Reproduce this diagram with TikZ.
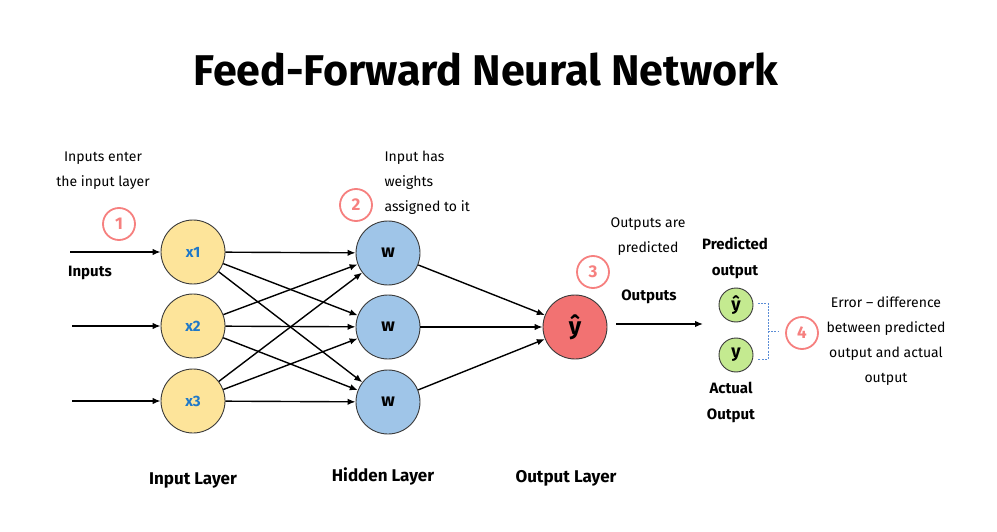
\documentclass[tikz,border=0pt]{standalone}
\usepackage{fontspec}
\setmainfont{Fira Sans}
\usetikzlibrary{arrows.meta}
\definecolor{inyel}{HTML}{FDE49A}
\definecolor{hidblue}{HTML}{9FC5E8}
\definecolor{outred}{HTML}{F27272}
\definecolor{grn}{HTML}{C4EA90}
\definecolor{pinkc}{HTML}{F6807F}
\definecolor{xblue}{HTML}{1F78C8}
\definecolor{brkblue}{HTML}{5B8DD6}
\definecolor{edge}{HTML}{3A3A3A}
\begin{document}
\begin{tikzpicture}[x=1pt,y=-1pt,
  neuron/.style={circle,draw=edge,line width=0.9pt,minimum size=64pt,inner sep=0pt},
  small/.style={circle,draw=edge,line width=0.9pt,minimum size=34pt,inner sep=0pt,fill=grn,font=\fontsize{18}{20}\selectfont\bfseries},
  arr/.style={line width=1.4pt,-{Latex[length=8pt,width=6.5pt]}},
  numc/.style={circle,draw=pinkc,line width=1.8pt,minimum size=32pt,inner sep=0pt,text=pinkc,font=\fontsize{17}{20}\selectfont\bfseries},
  note/.style={align=center,font=\fontsize{14}{25}\selectfont},
  lab/.style={align=center,font=\fontsize{15}{26}\selectfont\bfseries},
  layer/.style={font=\fontsize{17}{20}\selectfont\bfseries}
]
\useasboundingbox[fill=white] (0,0) rectangle (997,532);

% title
\node[font=\fontsize{43}{48}\selectfont\bfseries] (title) at (486,70) {Feed-Forward Neural Network};

% input layer
\node[neuron,fill=inyel,text=xblue,font=\fontsize{15}{17}\selectfont\bfseries] (x1) at (193,252) {x1};
\node[neuron,fill=inyel,text=xblue,font=\fontsize{15}{17}\selectfont\bfseries] (x2) at (193,326) {x2};
\node[neuron,fill=inyel,text=xblue,font=\fontsize{15}{17}\selectfont\bfseries] (x3) at (193,401) {x3};

% hidden layer
\node[neuron,fill=hidblue,font=\fontsize{18}{20}\selectfont\bfseries] (w1) at (388,253) {w};
\node[neuron,fill=hidblue,font=\fontsize{18}{20}\selectfont\bfseries] (w2) at (388,327) {w};
\node[neuron,fill=hidblue,font=\fontsize{18}{20}\selectfont\bfseries] (w3) at (388,402) {w};

% output
\node[neuron,fill=outred,font=\fontsize{24}{26}\selectfont\bfseries] (yo) at (575,327) {ŷ};

% predicted / actual
\node[small] (yp) at (736,305) {ŷ};
\node[small] (ya) at (736,355) {y};

% input arrows
\coordinate (in1) at (70,252);
\coordinate (in2) at (72,326);
\coordinate (in3) at (72,401);
\draw[arr] (in1) -- (x1);
\draw[arr] (in2) -- (x2);
\draw[arr] (in3) -- (x3);

% input to hidden
\foreach \i in {1,2,3}{
  \foreach \j in {1,2,3}{
    \draw[arr] (x\i) -- (w\j);
  }
}
% hidden to output
\foreach \j in {1,2,3}{
  \draw[arr] (w\j) -- (yo);
}
% output arrow
\coordinate (outend) at (703,324);
\draw[arr] ([xshift=9pt,yshift=3pt]yo.east) -- (outend);

% bracket
\draw[brkblue,line width=0.7pt,dash pattern=on 2pt off 1.2pt] (758,303) -- (768,303) -- (768,359) -- (758,359);
\draw[brkblue,line width=0.7pt,dash pattern=on 2pt off 1.2pt] (768,331) -- (778,331);

% numbered circles
\node[numc] (n1) at (119,224) {1};
\node[numc] (n2) at (356,205) {2};
\node[numc] (n3) at (593,272) {3};
\node[numc] (n4) at (802,333) {4};

% notes
\node[note] (t1) at (103,171) {Inputs enter\\the input layer};
\node[note,align=left,anchor=west] (t2) at (381,183) {Input has\\weights\\assigned to it};
\node[note] (t3) at (648,237) {Outputs are\\predicted};
\node[note] (t4) at (886,341) {Error -- difference\\between predicted\\output and actual\\output};

% bold labels
\node[lab] (inputs) at (90,273) {Inputs};
\node[lab] (outputs) at (649,297) {Outputs};
\node[lab] (pred) at (735,258) {Predicted\\output};
\node[lab] (act) at (731,402) {Actual\\Output};

% layer labels
\node[layer] (l1) at (193,480) {Input Layer};
\node[layer] (l2) at (383,476) {Hidden Layer};
\node[layer] (l3) at (566,478) {Output Layer};
\end{tikzpicture}
\end{document}
